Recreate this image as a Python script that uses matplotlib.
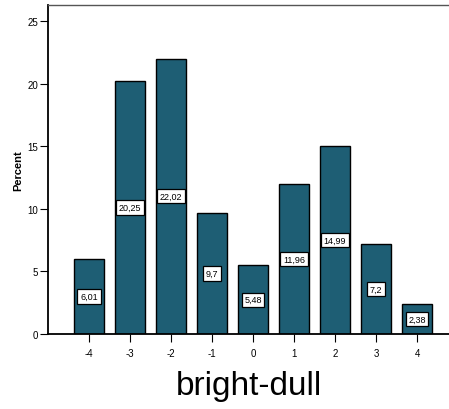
import matplotlib
matplotlib.use("Agg")
import matplotlib.pyplot as plt

categories = [-4, -3, -2, -1, 0, 1, 2, 3, 4]
percent = [6.01, 20.25, 22.02, 9.7, 5.48, 11.96, 14.99, 7.2, 2.38]
value_labels = ["6,01", "20,25", "22,02", "9,7", "5,48", "11,96", "14,99", "7,2", "2,38"]

plt.rcParams['font.family'] = ['Liberation Sans', 'DejaVu Sans']

fig = plt.figure(figsize=(4.49, 4.10), dpi=100)
W, H = 449, 410
left, right, top, bottom = 48, 458, 6, 335
ax = fig.add_axes([left / W, (H - bottom) / H, (right - left) / W, (bottom - top) / H])

ax.bar(categories, percent, width=0.75, color='#1e5e74', edgecolor='black', linewidth=1.0, zorder=2)

for x, v, lab in zip(categories, percent, value_labels):
    ax.text(x, v / 2, lab, ha='center', va='center', fontsize=6.5, color='black', zorder=3,
            bbox=dict(boxstyle='square,pad=0.3', facecolor='white', edgecolor='black', linewidth=0.9))

ax.set_xlim(-5, 5)
ax.set_ylim(0, 26.3)
ax.set_xticks(categories)
ax.set_xticklabels([str(c) for c in categories])
ax.set_yticks([0, 5, 10, 15, 20, 25])

ax.tick_params(axis='both', labelsize=7, length=6, width=0.8, direction='out', color='black', pad=1)
ax.tick_params(axis='x', pad=4)

for s in ['left', 'bottom']:
    ax.spines[s].set_linewidth(1.3)
    ax.spines[s].set_color('black')
ax.spines['top'].set_color('#555555')
ax.spines['top'].set_linewidth(1)
ax.spines['right'].set_visible(False)

ax.set_ylabel('Percent', fontsize=8, fontweight='bold', labelpad=3)
ax.set_xlabel('bright-dull', fontsize=24)
ax.xaxis.set_label_coords(4.9 / 10, -0.11)
ax.xaxis.label.set_va('top')

fig.savefig('out.png', dpi=100)
